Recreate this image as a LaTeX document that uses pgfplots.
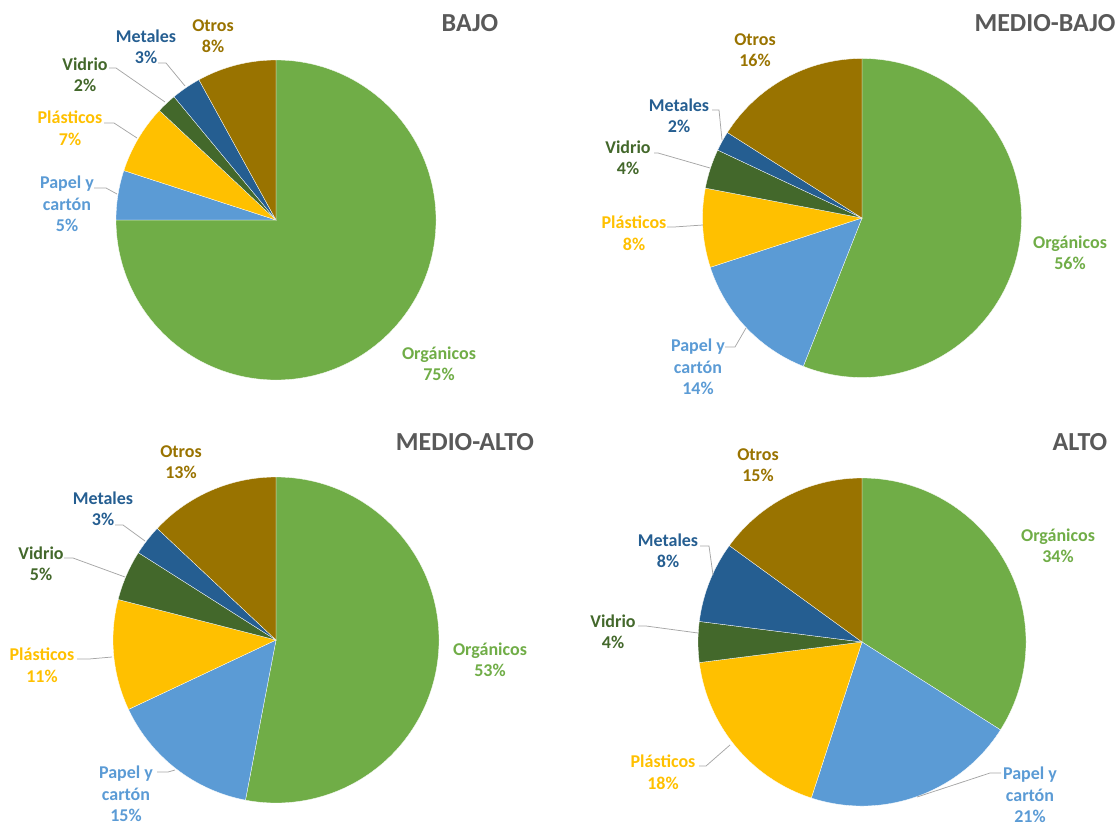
\documentclass[border=0pt]{standalone}
\usepackage{pgfplots}
\pgfplotsset{compat=1.18}
\usepackage{pgfplotstable}
\usepackage{fontspec}
\setmainfont{Carlito}
\definecolor{cOrg}{HTML}{70AD47}
\definecolor{cPap}{HTML}{5B9BD5}
\definecolor{cPla}{HTML}{FFC000}
\definecolor{cVid}{HTML}{43682B}
\definecolor{cMet}{HTML}{255E91}
\definecolor{cOtr}{HTML}{997300}
\definecolor{cTit}{HTML}{595959}
\definecolor{cLead}{HTML}{A6A6A6}

% share (%) of each waste type per income level
\pgfplotstableread{
cat bajo mediobajo medioalto alto
Organicos 75 56 53 34
Papel 5 14 15 21
Plasticos 7 8 11 18
Vidrio 2 4 5 4
Metales 3 2 3 8
Otros 8 16 13 15
}\residuos

\newcommand{\drawpie}[4]{%
  \xdef\cumang{90}%
  \foreach \i/\cc in {0/cOrg,1/cPap,2/cPla,3/cVid,4/cMet,5/cOtr}{%
    \pgfplotstablegetelem{\i}{#1}\of\residuos
    \pgfmathsetmacro{\endang}{\cumang-3.6*\pgfplotsretval}%
    \fill[\cc, draw=white, line width=0.3bp] (axis cs:#2,#3) -- ++(\cumang:#4bp)
      arc[start angle=\cumang, end angle=\endang, radius=#4bp] -- cycle;
    \xdef\cumang{\endang}%
  }%
}
\newcommand{\lfont}{\fontsize{18bp}{21.5bp}\selectfont\bfseries}
\newcommand{\tfont}{\fontsize{26bp}{30bp}\selectfont\bfseries}
\newcommand{\lab}[4]{\node[text=#1, font=\lfont, align=center, inner sep=0pt] at (axis cs:#2,#3) {#4};}
\newcommand{\ttl}[3]{\node[text=cTit, font=\tfont, inner sep=0pt] at (axis cs:#1,#2) {#3};}
\newcommand{\lead}[6]{\draw[cLead, line width=0.75bp] (axis cs:#1,#2) -- (axis cs:#3,#2) -- (axis cs:#5,#6);}

\begin{document}
\begin{tikzpicture}
\useasboundingbox (0,0) rectangle (1118bp,825bp);
\begin{axis}[
  at={(0,0)}, anchor=south west,
  width=1118bp, height=825bp, scale only axis,
  xmin=0, xmax=1118, ymin=0, ymax=825, y dir=reverse,
  hide axis, clip=false]
\pgfplotsextra{%
  \drawpie{bajo}{276}{220}{160}%
  \drawpie{mediobajo}{862}{218}{159.5}%
  \drawpie{medioalto}{276}{640}{163}%
  \drawpie{alto}{862}{642}{164}%
}
% BAJO
\ttl{470}{23}{BAJO}
\lab{cOtr}{213}{36}{Otros\\8\%}
\lab{cMet}{146}{47}{Metales\\3\%}
\lab{cVid}{85}{75}{Vidrio\\2\%}
\lab{cPla}{70}{128}{Plásticos\\7\%}
\lab{cPap}{67}{204}{Papel y\\cartón\\5\%}
\lab{cOrg}{439}{364}{Orgánicos\\75\%}
\lead{158}{63}{166}{}{185}{86}
\lead{109}{68}{116}{}{165}{102}
\lead{104}{123}{114}{}{137}{138}
\lead{94}{188}{106}{}{117}{194}
% MEDIO-BAJO
\ttl{1045}{23}{MEDIO-BAJO}
\lab{cOtr}{755}{50}{Otros\\16\%}
\lab{cMet}{679}{116}{Metales\\2\%}
\lab{cVid}{628}{158}{Vidrio\\4\%}
\lab{cPla}{634}{233}{Plásticos\\8\%}
\lab{cPap}{698}{367}{Papel y\\cartón\\14\%}
\lab{cOrg}{1070}{253}{Orgánicos\\56\%}
\lead{712}{110}{719}{}{722}{140}
\lead{654}{153}{658}{}{710}{168}
\lead{667}{227}{674}{}{703}{225}
\lead{725}{347}{735}{}{746}{328}
% MEDIO-ALTO
\ttl{465}{442}{MEDIO-ALTO}
\lab{cOtr}{181}{462}{Otros\\13\%}
\lab{cMet}{103}{509}{Metales\\3\%}
\lab{cVid}{41}{564}{Vidrio\\5\%}
\lab{cPla}{42}{665}{Plásticos\\11\%}
\lab{cPap}{126}{794}{Papel y\\cartón\\15\%}
\lab{cOrg}{490}{660}{Orgánicos\\53\%}
\lead{115}{525}{123}{}{145}{541}
\lead{64}{558}{73}{}{125}{577}
\lead{77}{659}{89}{}{112}{657}
\lead{157}{772}{168}{}{175}{770}
% ALTO
\ttl{1080}{442}{ALTO}
\lab{cOtr}{758}{465}{Otros\\15\%}
\lab{cMet}{668}{551}{Metales\\8\%}
\lab{cVid}{613}{632}{Vidrio\\4\%}
\lab{cPla}{663}{772}{Plásticos\\18\%}
\lab{cPap}{1030}{795}{Papel y\\cartón\\21\%}
\lab{cOrg}{1058}{546}{Orgánicos\\34\%}
\lead{700}{546}{709}{}{713}{575}
\lead{638}{626}{646}{}{698}{633}
\lead{699}{766}{706}{}{730}{745}
\lead{1001}{773}{990}{}{917}{797}
\end{axis}
\end{tikzpicture}
\end{document}
